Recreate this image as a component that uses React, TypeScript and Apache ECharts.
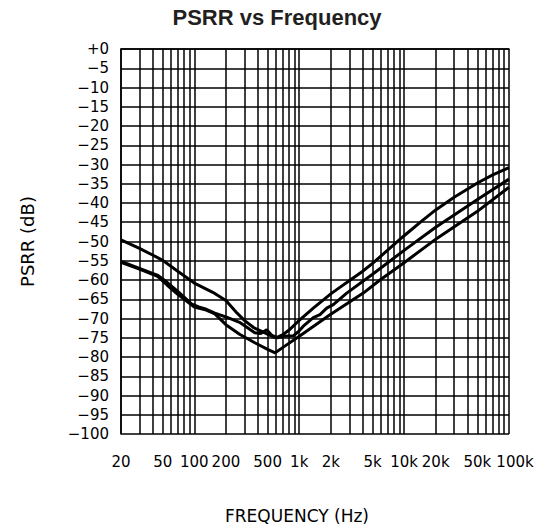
import React, { useEffect, useRef } from "react";
import * as echarts from "echarts";

// Frequency grid (Hz) and labels
const gridFreqs = [
  20, 30, 40, 50, 60, 70, 80, 90, 100,
  200, 300, 400, 500, 600, 700, 800, 900, 1000,
  2000, 3000, 4000, 5000, 6000, 7000, 8000, 9000, 10000,
  20000, 30000, 40000, 50000, 60000, 70000, 80000, 90000, 100000,
];
const labelFreqs = [20, 50, 100, 200, 500, 1000, 2000, 5000, 10000, 20000, 50000, 100000];

// Curve A (upper at low frequency)
const freqA = [20, 30, 40, 50, 70, 100, 150, 200, 250, 300, 370, 450, 520, 600, 700, 800, 947, 1000, 1362, 2000, 2276, 3000, 4000, 5000, 10000, 15000, 20000, 30000, 50000, 70000, 100000];
const dbA = [-49.6, -51.8, -53.5, -54.9, -57.8, -60.8, -63.2, -65.3, -68.3, -70.5, -72.4, -73.5, -74.3, -75.0, -74.2, -73.0, -71.1, -70.5, -67.3, -63.6, -62.5, -60.2, -57.8, -55.7, -48.5, -44.5, -41.8, -38.5, -34.8, -32.7, -30.8];

// Curve B (middle)
const freqB = [20, 30, 40, 45, 55, 70, 95, 110, 130, 157, 200, 270, 377, 430, 490, 550, 620, 700, 880, 1000, 1094, 1362, 1578, 1828, 2113, 2836, 5000, 10000, 20000, 30000, 50000, 100000];
const dbB = [-55.2, -57.0, -58.3, -58.8, -60.6, -63.0, -66.3, -67.0, -67.6, -68.6, -69.6, -71.0, -73.7, -73.9, -72.9, -74.4, -75.0, -74.6, -74.5, -73.2, -72.0, -69.8, -69.0, -67.3, -66.4, -63.4, -58.5, -52.3, -46.3, -43.1, -39.1, -33.8];

// Curve C (lowest at the minimum)
const freqC = [20, 30, 40, 45, 55, 70, 100, 130, 157, 200, 270, 377, 500, 590, 700, 1018, 1966, 4080, 5889, 10000, 20500, 49200, 100000];
const dbC = [-55.4, -57.2, -58.5, -59.1, -61.3, -63.8, -67.0, -67.8, -68.8, -71.6, -74.1, -76.3, -78.0, -78.9, -77.5, -74.5, -69.0, -63.4, -60.0, -55.5, -49.2, -42.3, -35.9];

const toPairs = (f: number[], d: number[]) => f.map((v, i) => [Math.log10(v), d[i]]);

const fmtFreq = (v: number) => {
  const f = Math.round(Math.pow(10, v));
  return f >= 1000 ? `${Math.round(f / 1000)}k` : `${f}`;
};

export default function App() {
  const ref = useRef<HTMLDivElement>(null);
  useEffect(() => {
    document.body.style.margin = "0";
    const chart = echarts.init(ref.current!, null, { renderer: "svg" });
    const lineStyle = { color: "#000", width: 3 };
    const fontFamily = "DejaVu Sans";
    const xMin = Math.log10(gridFreqs[0]);
    const xMax = Math.log10(gridFreqs[gridFreqs.length - 1]);
    const labelStyle = { fontFamily, fontSize: 15, color: "#000", margin: 20 };
    chart.setOption({
      animation: false,
      backgroundColor: "#fff",
      title: {
        text: "PSRR vs Frequency",
        left: "center",
        top: 1,
        textStyle: { fontFamily: "Liberation Sans", fontWeight: "bold", fontSize: 22, color: "#231f20" },
      },
      grid: { left: 121, top: 49, right: 45, bottom: 92, containLabel: false },
      xAxis: [
        {
          type: "value",
          min: xMin,
          max: xMax,
          name: "FREQUENCY (Hz)",
          nameLocation: "middle",
          nameGap: 73,
          nameTextStyle: { fontFamily, fontSize: 17, color: "#000", padding: [0, 36, 0, 0] },
          axisLine: { show: true, lineStyle: { color: "#000", width: 1.5 } },
          axisTick: { show: false, customValues: gridFreqs.map((f) => Math.log10(f)) },
          axisLabel: {
            customValues: labelFreqs.slice(0, -1).map((f) => Math.log10(f)),
            formatter: (v: number) => fmtFreq(v),
            showMinLabel: true,
            ...labelStyle,
          },
          splitLine: { show: true, lineStyle: { color: "#000", width: 1.5 } },
        },
        {
          type: "value",
          min: xMin,
          max: xMax,
          position: "bottom",
          axisLine: { show: false },
          axisTick: { show: false },
          splitLine: { show: false },
          axisLabel: {
            customValues: labelFreqs.slice(-1).map((f) => Math.log10(f)),
            formatter: (v: number) => `{r|${fmtFreq(v)}}`,
            showMaxLabel: true,
            rich: { r: { fontFamily, fontSize: 15, color: "#000", padding: [0, 0, 0, 12] } },
            ...labelStyle,
          },
        },
      ],
      yAxis: {
        type: "value",
        min: -100,
        max: 0,
        interval: 5,
        name: "PSRR (dB)",
        nameLocation: "middle",
        nameGap: 85,
        nameTextStyle: { fontFamily, fontSize: 18, color: "#000" },
        axisLine: { show: true, lineStyle: { color: "#000", width: 1.5 } },
        axisTick: { show: false },
        axisLabel: {
          formatter: (v: number) => (v === 0 ? "+0" : "\u2212" + Math.abs(v)),
          fontFamily,
          fontSize: 15,
          color: "#000",
          margin: 12,
        },
        splitLine: { show: true, lineStyle: { color: "#000", width: 1.5 } },
      },
      series: [
        { type: "line", data: toPairs(freqA, dbA), showSymbol: false, symbol: "none", lineStyle },
        { type: "line", data: toPairs(freqB, dbB), showSymbol: false, symbol: "none", lineStyle },
        { type: "line", data: toPairs(freqC, dbC), showSymbol: false, symbol: "none", lineStyle },
      ],
    });
    return () => chart.dispose();
  }, []);
  return <div ref={ref} style={{ width: 554, height: 529 }} />;
}
